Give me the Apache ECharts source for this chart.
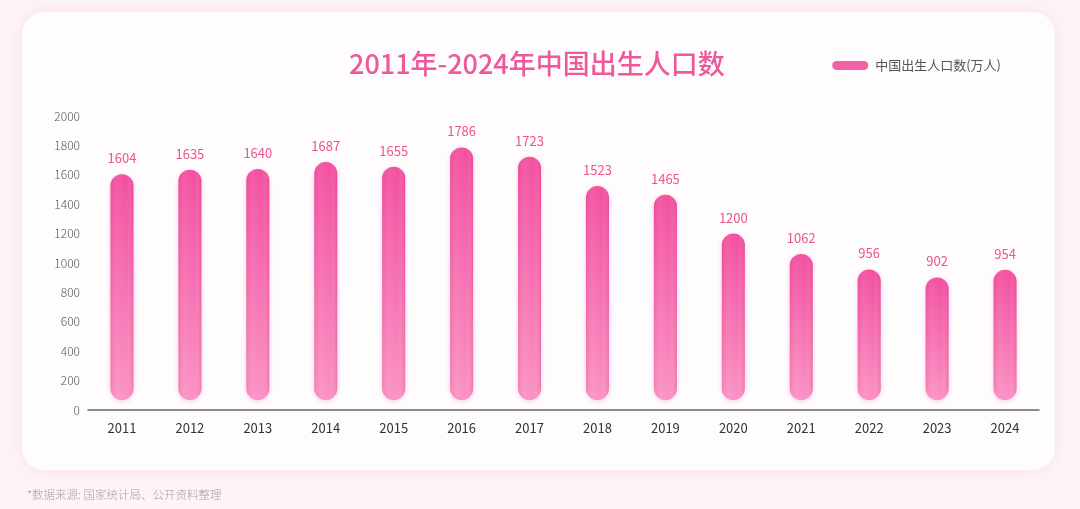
<!DOCTYPE html>
<html>
<head>
<meta charset="utf-8">
<title>2011年-2024年中国出生人口数</title>
<script src="https://cdn.jsdelivr.net/npm/echarts@6/dist/echarts.min.js"></script>
<style>
  html, body { margin: 0; padding: 0; background: #fdf4f8; }
  #main { width: 1080px; height: 509px; }
</style>
</head>
<body>
<div id="main"></div>
<script type="text/javascript">
// 数据
var years = ['2011', '2012', '2013', '2014', '2015', '2016', '2017', '2018', '2019', '2020', '2021', '2022', '2023', '2024'];
var births = [1604, 1635, 1640, 1687, 1655, 1786, 1723, 1523, 1465, 1200, 1062, 956, 902, 954];
var yTicks = [0, 200, 400, 600, 800, 1000, 1200, 1400, 1600, 1800, 2000];

var chart = echarts.init(document.getElementById('main'));

var barW = 23;
var font = '"Noto Sans CJK SC", "Noto Sans", sans-serif';

// 柱子：圆头胶囊，底部离轴线留一点空
function renderBar(params, api) {
  var top = api.coord([api.value(0), api.value(1)]);
  var base = api.coord([api.value(0), 0]);
  var bottom = base[1] - 10;
  var x = top[0] - barW / 2;
  var h = bottom - top[1];
  return {
    type: 'group',
    children: [
      {
        type: 'rect',
        shape: { x: x, y: top[1], width: barW, height: h, r: barW / 2 },
        style: {
          fill: new echarts.graphic.LinearGradient(0, 0, 0, 1, [
            { offset: 0, color: '#f24f9e' },
            { offset: 1, color: '#fa92c4' }
          ]),
          shadowBlur: 4,
          shadowOffsetY: 1,
          shadowColor: 'rgba(230, 80, 150, 0.3)'
        }
      },
      {
        // 左右边缘的暗影，做出立体感
        type: 'rect',
        shape: { x: x, y: top[1], width: barW, height: h, r: barW / 2 },
        style: {
          fill: new echarts.graphic.LinearGradient(0, 0, 1, 0, [
            { offset: 0, color: 'rgba(210, 40, 120, 0.16)' },
            { offset: 0.3, color: 'rgba(255, 255, 255, 0.06)' },
            { offset: 0.7, color: 'rgba(255, 255, 255, 0.0)' },
            { offset: 1, color: 'rgba(210, 40, 120, 0.26)' }
          ])
        }
      },
      {
        type: 'text',
        x: top[0],
        y: top[1] - 16,
        style: {
          text: String(api.value(1)),
          fill: '#e9558f',
          font: '13px ' + font,
          align: 'center',
          verticalAlign: 'middle'
        }
      }
    ]
  };
}

var option = {
  backgroundColor: '#fdf4f8',
  graphic: [
    {
      type: 'rect',
      z: -10,
      shape: { x: 22, y: 12, width: 1033, height: 458, r: 22 },
      style: {
        fill: '#fefcfd',
        shadowBlur: 16,
        shadowColor: 'rgba(240, 130, 175, 0.18)'
      }
    },
    {
      type: 'text',
      left: 27,
      top: 489,
      style: {
        text: '*数据来源: 国家统计局、公开资料整理',
        fill: '#a3a3a3',
        font: '300 11.5px ' + font
      }
    }
  ],
  title: {
    text: '2011年-2024年中国出生人口数',
    left: 344,
    top: 45,
    textStyle: {
      color: '#ec5a9b',
      fontSize: 27,
      fontWeight: 500,
      fontFamily: font
    }
  },
  legend: {
    data: ['中国出生人口数(万人)'],
    right: 74,
    top: 54,
    icon: 'path://M4.5,0 L31.5,0 A4.5,4.5 0 0 1 31.5,9 L4.5,9 A4.5,4.5 0 0 1 4.5,0 Z',
    itemWidth: 36,
    itemHeight: 9,
    itemGap: 10,
    textStyle: {
      color: '#555',
      fontSize: 13,
      fontFamily: font,
      padding: [0, 0, 0, 2]
    }
  },
  grid: {
    left: 88,
    right: 41,
    top: 116,
    bottom: 99
  },
  xAxis: {
    type: 'category',
    data: years,
    axisLine: { lineStyle: { color: '#666', width: 1.5 } },
    axisTick: { show: false },
    axisLabel: { color: '#333', fontSize: 13, margin: 12, fontFamily: font }
  },
  yAxis: {
    type: 'value',
    min: yTicks[0],
    max: yTicks[yTicks.length - 1],
    interval: yTicks[1] - yTicks[0],
    splitLine: { show: false },
    axisLine: { show: false },
    axisTick: { show: false },
    axisLabel: {
      color: '#555',
      fontSize: 12,
      margin: 8,
      fontWeight: 300,
      fontFamily: font,
      formatter: function (v) { return String(v); }
    }
  },
  series: [
    {
      name: '中国出生人口数(万人)',
      type: 'custom',
      renderItem: renderBar,
      itemStyle: { color: '#f260a6' },
      encode: { x: 0, y: 1 },
      data: years.map(function (y, i) { return [i, births[i]]; })
    }
  ]
};

chart.setOption(option);
</script>
</body>
</html>
